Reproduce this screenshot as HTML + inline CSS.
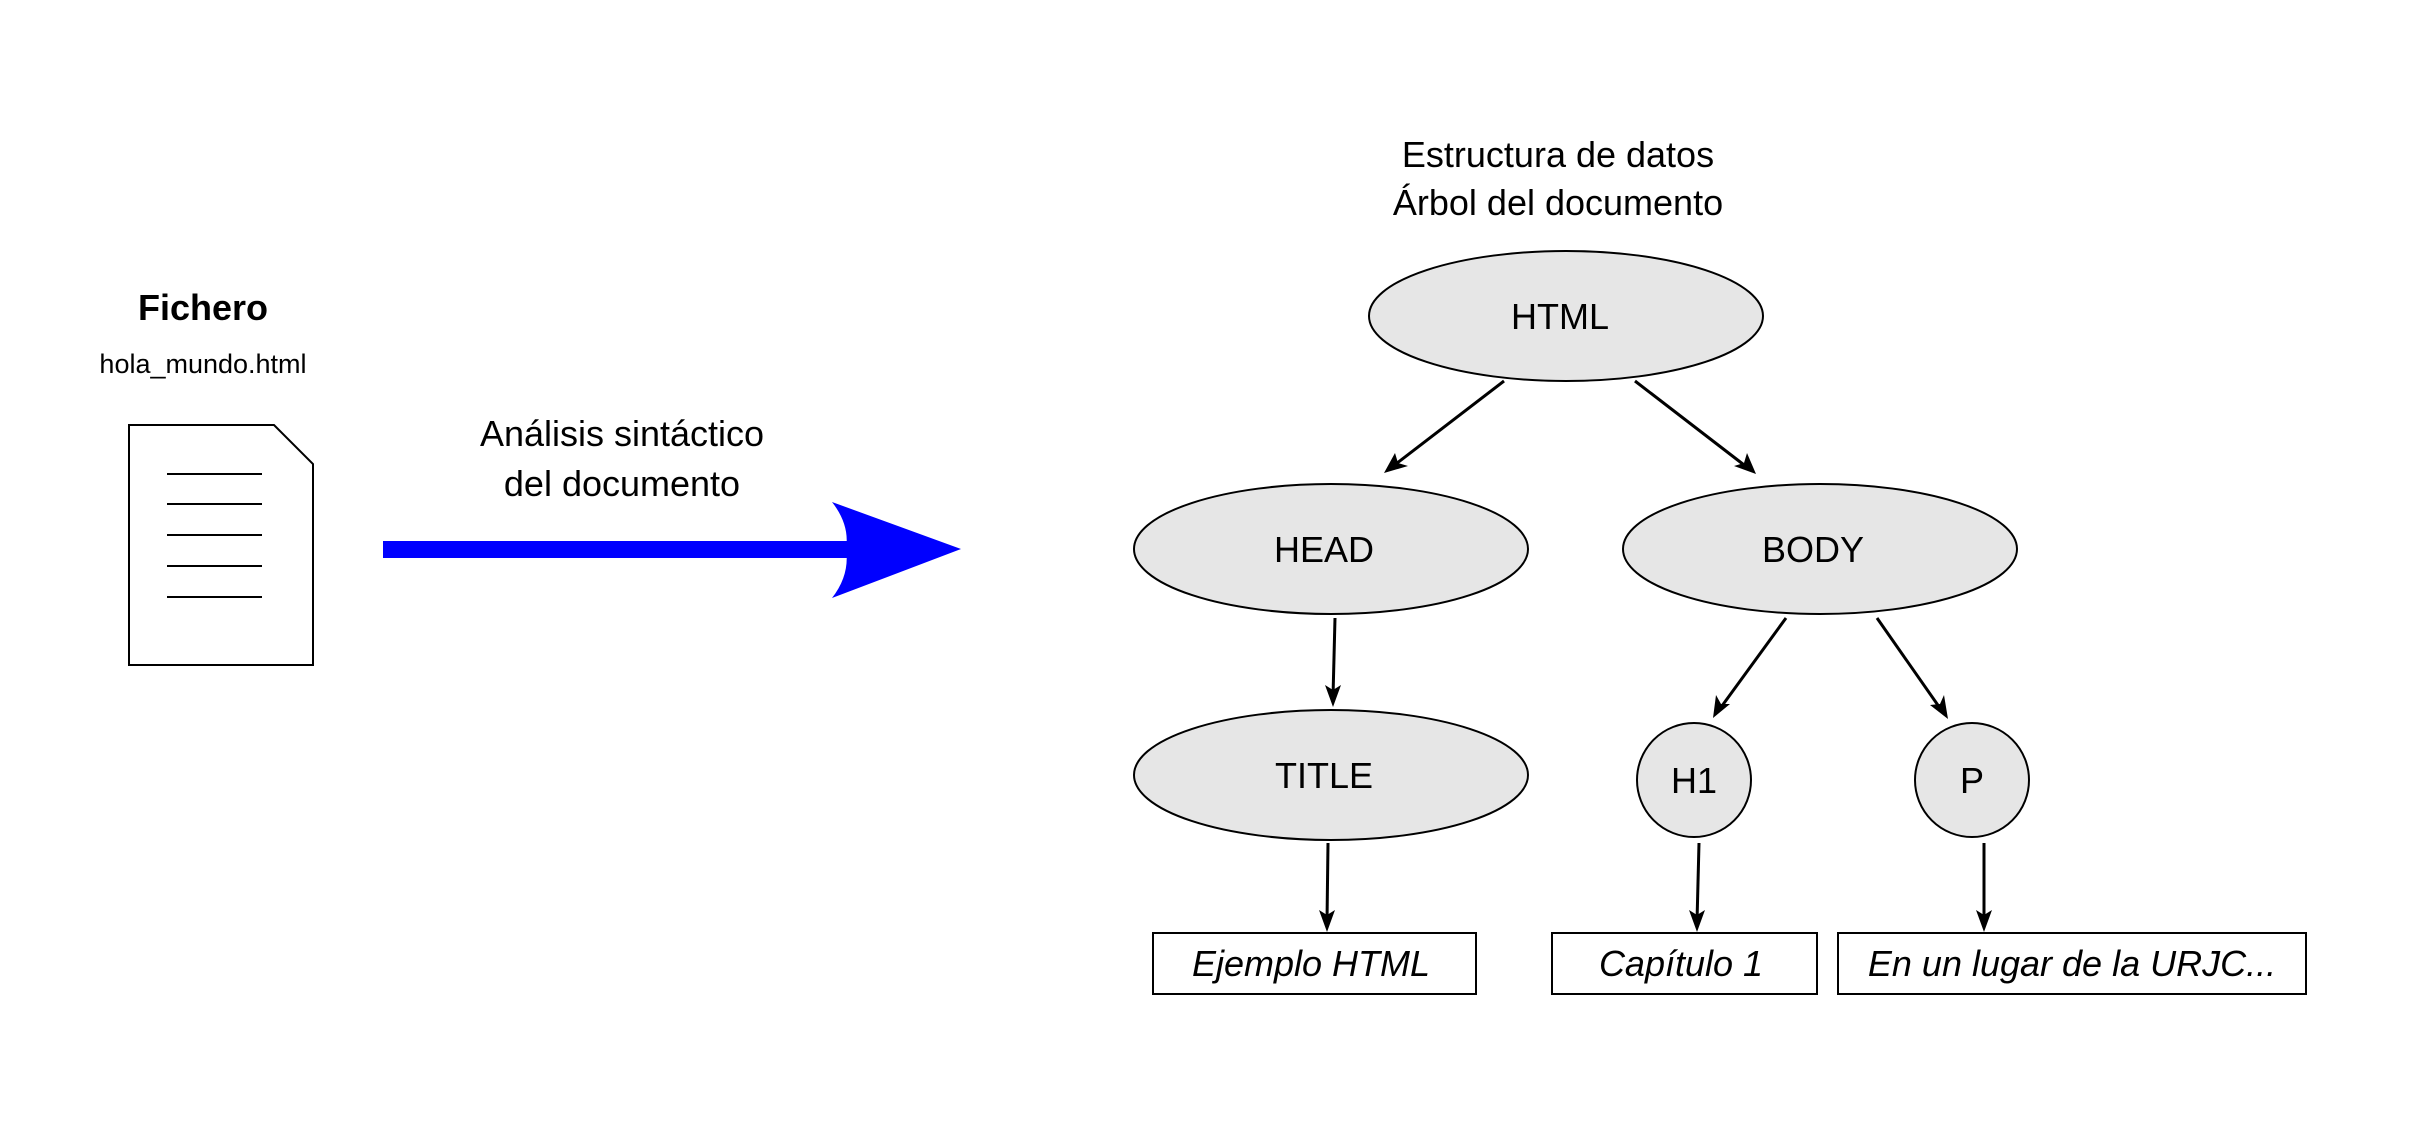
<!DOCTYPE html>
<html><head><meta charset="utf-8"><style>
html,body{margin:0;padding:0;background:#fff;}
svg{display:block;}
text{font-family:"Liberation Sans","DejaVu Sans",sans-serif;fill:#000;}
</style></head><body>
<svg width="2430" height="1147" viewBox="0 0 2430 1147" xmlns="http://www.w3.org/2000/svg">
<defs>
<marker id="ah" markerWidth="10" markerHeight="10" refX="9" refY="5" orient="auto" markerUnits="userSpaceOnUse" viewBox="0 0 10 10">
</marker>
</defs>
<rect width="2430" height="1147" fill="#fff"/>
<!-- document icon -->
<path d="M129,425 H274 L313,464 V665 H129 Z" fill="#fff" stroke="#000" stroke-width="2"/>
<g stroke="#000" stroke-width="2">
<line x1="167" y1="474" x2="262" y2="474"/>
<line x1="167" y1="504" x2="262" y2="504"/>
<line x1="167" y1="535" x2="262" y2="535"/>
<line x1="167" y1="566" x2="262" y2="566"/>
<line x1="167" y1="597" x2="262" y2="597"/>
</g>
<text x="203" y="320" font-size="36" font-weight="bold" text-anchor="middle">Fichero</text>
<text x="203" y="373" font-size="27" text-anchor="middle">hola_mundo.html</text>
<text x="622" y="446" font-size="36" text-anchor="middle">Análisis sintáctico</text>
<text x="622" y="496" font-size="36" text-anchor="middle">del documento</text>
<!-- blue arrow -->
<rect x="383" y="541" width="465" height="17" fill="#0000ff"/>
<path d="M832,502 L961,549 L832,598 Q850,575 846,549 Q850,525 832,502 Z" fill="#0000ff"/>
<text x="1558" y="167" font-size="36" text-anchor="middle">Estructura de datos</text>
<text x="1558" y="215" font-size="36" text-anchor="middle">Árbol del documento</text>
<!-- nodes -->
<g fill="#e6e6e6" stroke="#000" stroke-width="2">
<ellipse cx="1566" cy="316" rx="197" ry="65"/>
<ellipse cx="1331" cy="549" rx="197" ry="65"/>
<ellipse cx="1820" cy="549" rx="197" ry="65"/>
<ellipse cx="1331" cy="775" rx="197" ry="65"/>
<circle cx="1694" cy="780" r="57"/>
<circle cx="1972" cy="780" r="57"/>
</g>
<g font-size="36" text-anchor="middle">
<text x="1560" y="329">HTML</text>
<text x="1324" y="562">HEAD</text>
<text x="1813" y="562">BODY</text>
<text x="1324" y="788">TITLE</text>
<text x="1694" y="793">H1</text>
<text x="1972" y="793">P</text>
</g>
<!-- leaf boxes -->
<g fill="#fff" stroke="#000" stroke-width="2">
<rect x="1153" y="933" width="323" height="61"/>
<rect x="1552" y="933" width="265" height="61"/>
<rect x="1838" y="933" width="468" height="61"/>
</g>
<g font-size="36" font-style="italic" text-anchor="middle">
<text x="1311" y="976">Ejemplo HTML</text>
<text x="1681" y="976">Capítulo 1</text>
<text x="2072" y="976">En un lugar de la URJC...</text>
</g>
<!-- connectors -->
<g stroke="#000" stroke-width="3">
<line x1="1504" y1="381" x2="1392" y2="467"/>
<line x1="1635" y1="381" x2="1748" y2="468"/>
<line x1="1335" y1="618" x2="1333" y2="697"/>
<line x1="1786" y1="618" x2="1719" y2="710"/>
<line x1="1877" y1="618" x2="1942" y2="711"/>
<line x1="1328" y1="843" x2="1327" y2="922"/>
<line x1="1699" y1="843" x2="1697" y2="922"/>
<line x1="1984" y1="843" x2="1984" y2="922"/>
</g>
<g fill="#000">
<path d="M1384,473 L1395,453 L1398,463 L1408,466 Z"/>
<path d="M1756,474 L1734,466 L1744,463 L1747,453 Z"/>
<path d="M1333,707 L1325,685 L1333,690 L1341,685 Z"/>
<path d="M1713,718 L1716,695 L1721,704 L1730,704 Z"/>
<path d="M1948,719 L1930,705 L1940,704 L1944,695 Z"/>
<path d="M1327,932 L1319,910 L1327,915 L1335,910 Z"/>
<path d="M1697,932 L1689,910 L1697,915 L1705,910 Z"/>
<path d="M1984,932 L1976,910 L1984,915 L1992,910 Z"/>
</g>
</svg>
</body></html>
